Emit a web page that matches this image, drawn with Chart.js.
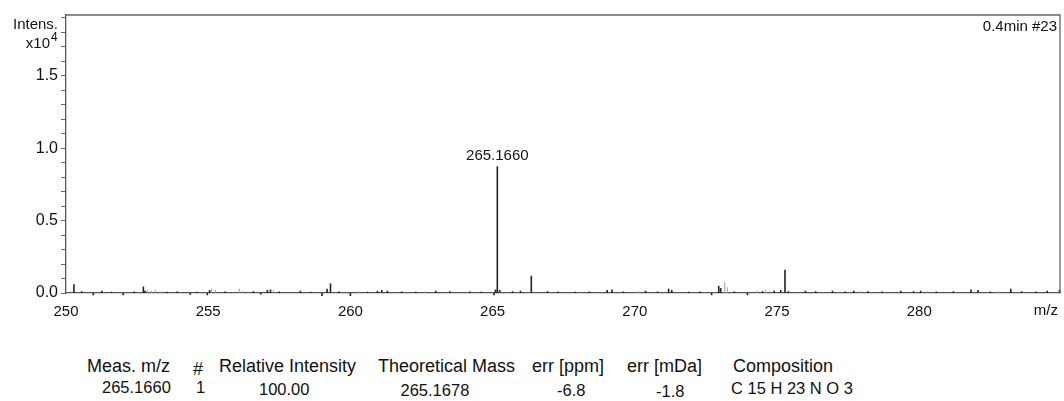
<!DOCTYPE html>
<html>
<head>
<meta charset="utf-8">
<script src="https://cdn.jsdelivr.net/npm/chart.js@4.4.1/dist/chart.umd.min.js"></script>
<style>
body{margin:0;background:#fff;font-family:"Liberation Sans",Arial,sans-serif;color:#111}
#wrap{position:relative;width:1064px;height:401px;overflow:hidden}
#box{position:absolute;left:0;top:0;width:1064px;height:330px}
.t{position:absolute;white-space:nowrap;line-height:1}
</style>
</head>
<body>
<div id="wrap">
<div id="box"><canvas id="ms"></canvas></div>
</div>
<script>
// spectrum sticks, intensity in x10^4
var mzDark = [250.28,250.55,250.96,251.26,251.6,252.01,252.4,252.72,252.78,253.55,253.91,254.37,254.6,254.97,255.05,255.6,256.59,256.85,257.08,257.19,257.5,258.24,258.6,259.0,259.18,259.3,259.6,260.0,260.6,260.95,261.1,261.3,261.8,262.3,263.0,263.5,264.2,264.6,265.05,265.1,265.166,265.25,265.7,265.98,266.36,266.93,267.3,267.9,268.4,269.03,269.2,269.6,270.38,270.8,271.19,271.3,271.9,272.3,272.7,272.95,273.02,273.5,273.96,274.49,274.9,275.13,275.28,275.4,276.0,276.36,276.95,277.4,277.7,278.2,278.7,279.35,279.8,280.05,280.6,281.2,281.82,282.07,282.5,283.22,283.6,284.1,284.5,284.93];
var intDark = [0.06,0.012,-0.015,0.015,0.008,-0.015,0.01,0.045,0.015,0.008,0.01,-0.012,0.008,-0.015,0.02,0.01,0.012,-0.01,0.02,0.025,0.01,0.015,0.008,-0.02,0.03,0.065,0.01,-0.02,0.008,0.015,0.02,0.015,0.01,0.008,0.015,0.012,0.01,0.008,-0.015,0.025,0.875,0.02,0.012,0.015,0.12,0.012,0.01,0.008,0.01,0.02,0.025,0.01,0.015,0.01,0.03,0.02,0.008,0.01,-0.015,0.05,0.035,0.01,-0.015,0.012,0.015,0.02,0.16,0.012,0.015,0.012,0.015,0.01,0.015,0.012,0.01,0.015,0.012,0.015,0.01,0.012,0.025,0.02,0.01,0.03,0.012,0.01,0.015,0.02];
var mzGray = [252.86,253.0,253.14,253.31,255.11,255.25,256.09,256.2,257.29,260.3,262.6,268.1,270.1,273.16,273.25,274.3,274.6,277.9,280.3,282.8];
var intGray = [0.02,0.015,0.02,0.012,0.03,0.02,0.03,0.015,0.02,0.012,0.012,0.01,0.012,0.075,0.04,0.015,0.02,0.012,0.012,0.012];

var xTicks = [250,255,260,265,270,275,280];
var yTicks = [0,0.1,0.2,0.3,0.4,0.5,0.6,0.7,0.8,0.9,1.0,1.1,1.2,1.3,1.4,1.5,1.6,1.7,1.8,1.9];

var labelMz = 265.166, labelInt = 0.875, labelText = '265.1660';

var tableHead = ['Meas. m/z','#','Relative Intensity','Theoretical Mass','err [ppm]','err [mDa]','Composition'];
var tableRow = ['265.1660','1','100.00','265.1678','-6.8','-1.8','C 15 H 23 N O 3'];

function sticks(mz, ints){
	var pts = [];
	mz.forEach(function(m, i){
		pts.push({x: m, y: 0}, {x: m, y: ints[i]}, {x: m, y: null});
	});
	return pts;
}

var decor = {
	id: 'decor',
	afterDraw: function(chart){
		var ctx = chart.ctx, a = chart.chartArea;
		var xs = chart.scales.x, ys = chart.scales.y;
		ctx.save();
		ctx.strokeStyle = '#666';
		ctx.lineWidth = 1.3;
		ctx.beginPath();
		ctx.moveTo(a.left, a.top);
		ctx.lineTo(a.right, a.top);
		ctx.lineTo(a.right, a.bottom);
		ctx.stroke();
		ctx.fillStyle = '#111';
		ctx.font = '15px "Liberation Sans", Arial, sans-serif';
		ctx.textBaseline = 'alphabetic';
		ctx.textAlign = 'right';
		ctx.fillText('Intens.', 58, 29);
		ctx.fillText('x10', 50, 48);
		ctx.font = '12px "Liberation Sans", Arial, sans-serif';
		ctx.textAlign = 'left';
		ctx.fillText('4', 51, 41);
		ctx.font = '15px "Liberation Sans", Arial, sans-serif';
		ctx.textAlign = 'right';
		ctx.fillText('0.4min #23', 1057, 31);
		ctx.fillText('m/z', 1058, 315);
		ctx.textAlign = 'center';
		ctx.fillText(labelText, xs.getPixelForValue(labelMz), ys.getPixelForValue(labelInt) - 6);
		ctx.restore();
	}
};

new Chart(document.getElementById('ms'), {
	type: 'line',
	data: {
		datasets: [
			{data: sticks(mzGray, intGray), borderColor: '#9a9a9a', borderWidth: 1, pointRadius: 0, clip: false},
			{data: sticks(mzDark, intDark), borderColor: '#222', borderWidth: 1.6, pointRadius: 0, clip: false}
		]
	},
	options: {
		responsive: true,
		maintainAspectRatio: false,
		animation: false,
		layout: {padding: {top: 15, right: 4, left: 0, bottom: 0}},
		plugins: {legend: {display: false}, tooltip: {enabled: false}},
		scales: {
			x: {
				type: 'linear', min: 250, max: 284.95,
				afterBuildTicks: function(s){ s.ticks = xTicks.map(function(v){ return {value: v}; }); },
				afterFit: function(s){ s.height = 37; },
				grid: {display: false},
				border: {display: true, color: '#555', width: 1.3},
				ticks: {autoSkip: false, maxRotation: 0, padding: 2, color: '#111',
					font: {family: '"Liberation Sans", Arial, sans-serif', size: 15},
					callback: function(v){ return String(v); }}
			},
			y: {
				type: 'linear', min: 0, max: 1.92,
				afterBuildTicks: function(s){ s.ticks = yTicks.map(function(v){ return {value: v}; }); },
				afterFit: function(s){ s.width = 66; },
				grid: {display: true, drawOnChartArea: false, drawTicks: true, tickLength: 5, tickColor: '#666'},
				border: {display: true, color: '#555', width: 1.3},
				ticks: {autoSkip: false, padding: 3, color: '#111',
					font: {family: '"Liberation Sans", Arial, sans-serif', size: 16},
					callback: function(v){ return Math.abs(v * 2 - Math.round(v * 2)) < 1e-6 ? v.toFixed(1) : ''; }}
			}
		}
	},
	plugins: [decor]
});

// results table under the spectrum
var wrap = document.getElementById('wrap');
function put(text, x, base, fs, align){
	var d = document.createElement('div');
	d.className = 't';
	d.style.fontSize = fs + 'px';
	d.textContent = text;
	wrap.appendChild(d);
	var w = d.offsetWidth;
	var left = align === 'right' ? x - w : align === 'center' ? x - w / 2 : x;
	d.style.left = left + 'px';
	d.style.top = (base - 0.8465 * fs) + 'px';
}
var headX = [87, 193, 219, 378, 532, 627, 733];
var headBase = [372, 375, 372, 372, 372, 372, 372];
tableHead.forEach(function(t, i){ put(t, headX[i], headBase[i], 18, 'left'); });
var rowX = [171, 196, 284, 435, 557, 656, 731];
var rowAlign = ['right', 'left', 'center', 'center', 'left', 'left', 'left'];
var rowBase = [393, 393, 395, 396, 396, 397, 394];
tableRow.forEach(function(t, i){ put(t, rowX[i], rowBase[i], 16.5, rowAlign[i]); });
</script>
</body>
</html>
